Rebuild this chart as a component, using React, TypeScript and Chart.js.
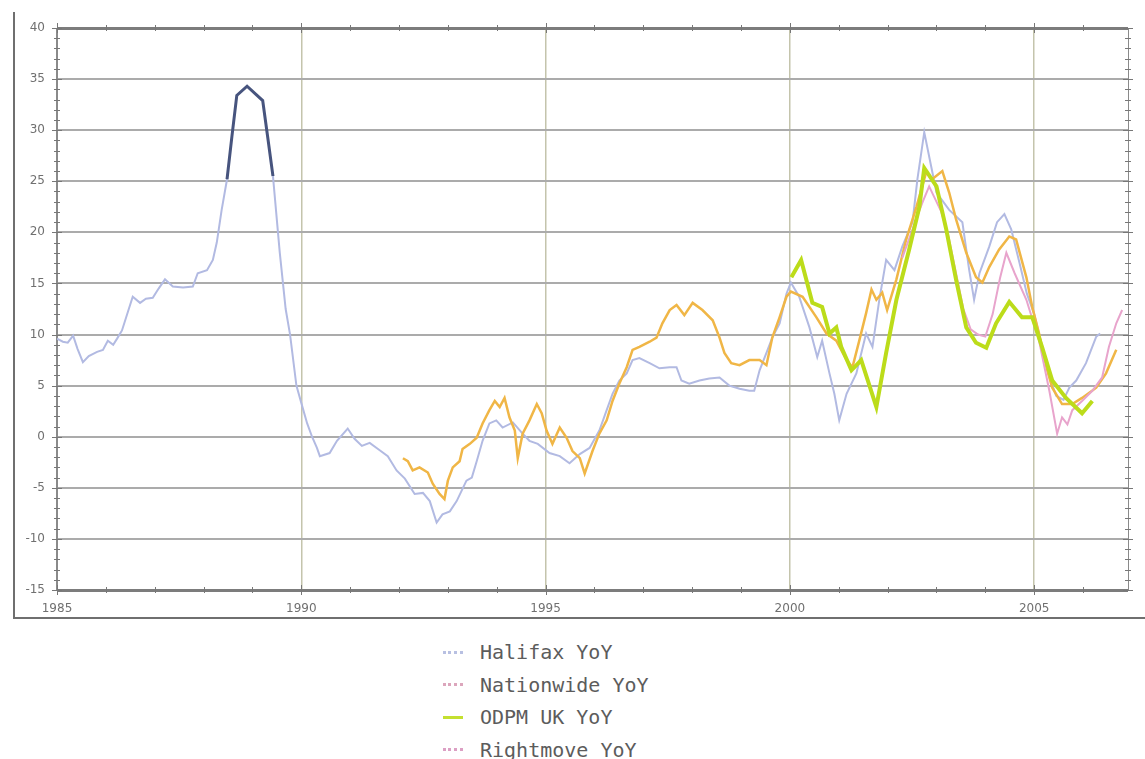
import React, { useEffect, useRef } from "react";
import { Chart, registerables } from "chart.js";

Chart.register(...registerables);

const xMin = 1985;
const xMax = 2006.92;
const yMin = -15;
const yMax = 40;
const xTickLabels = [1985, 1990, 1995, 2000, 2005];
const yTickLabels = [-15, -10, -5, 0, 5, 10, 15, 20, 25, 30, 35, 40];

const halifaxYears = [
  1985.0, 1985.12, 1985.22, 1985.33, 1985.42, 1985.53, 1985.65, 1985.82, 1985.94, 1986.04,
  1986.15, 1986.23, 1986.33, 1986.45, 1986.55, 1986.7, 1986.82, 1986.96, 1987.08, 1987.21,
  1987.37, 1987.58, 1987.78, 1987.88, 1988.07, 1988.19, 1988.27, 1988.37, 1988.48, 1988.58,
  1988.68, 1988.89, 1989.21, 1989.31, 1989.42, 1989.56, 1989.68, 1989.77, 1989.9, 1990.03,
  1990.12, 1990.22, 1990.32, 1990.38, 1990.58, 1990.73, 1990.95, 1991.09, 1991.24, 1991.4,
  1991.57, 1991.77, 1991.95, 1992.12, 1992.32, 1992.49, 1992.63, 1992.77, 1992.89, 1993.04,
  1993.18, 1993.28, 1993.38, 1993.49, 1993.59, 1993.71, 1993.85, 1993.99, 1994.12, 1994.33,
  1994.53, 1994.67, 1994.84, 1995.08, 1995.29, 1995.49, 1995.7, 1995.9, 1996.1, 1996.25,
  1996.37, 1996.51, 1996.66, 1996.78, 1996.92, 1997.13, 1997.33, 1997.54, 1997.68, 1997.78,
  1997.94, 1998.15, 1998.35, 1998.56, 1998.76, 1998.97, 1999.17, 1999.27, 1999.38, 1999.52,
  1999.64, 1999.79, 1999.93, 2000.02, 2000.19, 2000.4, 2000.56, 2000.66, 2000.81, 2000.91,
  2001.01, 2001.16, 2001.36, 2001.56, 2001.69, 2001.83, 2001.97, 2002.14, 2002.3, 2002.51,
  2002.61, 2002.75, 2002.89, 2003.0, 2003.26, 2003.53, 2003.67, 2003.77, 2003.88, 2004.08,
  2004.24, 2004.39, 2004.53, 2004.7, 2004.85, 2005.0, 2005.15, 2005.3, 2005.45, 2005.6,
  2005.72, 2005.86, 2006.06, 2006.27, 2006.35,
];
const halifaxYoY = [
  9.6, 9.3, 9.2, 9.9, 8.6, 7.3, 7.9, 8.3, 8.5, 9.4,
  9.0, 9.6, 10.4, 12.2, 13.7, 13.1, 13.5, 13.6, 14.5, 15.4,
  14.7, 14.6, 14.7, 16.0, 16.3, 17.3, 19.0, 22.2, 25.2, 29.4,
  33.4, 34.3, 32.9, 29.4, 25.5, 18.0, 12.5, 10.0, 5.0, 2.8,
  1.3, 0.0, -1.1, -1.9, -1.6, -0.4, 0.8, -0.2, -0.9, -0.6,
  -1.2, -1.9, -3.3, -4.1, -5.6, -5.5, -6.3, -8.4, -7.6, -7.3,
  -6.3, -5.3, -4.3, -4.0, -2.4, -0.4, 1.3, 1.6, 0.9, 1.4,
  0.3, -0.4, -0.7, -1.6, -1.9, -2.6, -1.7, -1.1, 0.6, 2.6,
  4.2, 5.5, 6.2, 7.5, 7.7, 7.2, 6.7, 6.8, 6.8, 5.5,
  5.2, 5.5, 5.7, 5.8, 5.0, 4.7, 4.5, 4.5, 6.5, 8.2,
  9.7, 11.1, 14.0, 15.1, 13.7, 10.7, 7.8, 9.4, 6.2, 4.2,
  1.6, 4.2, 6.2, 10.1, 8.8, 13.4, 17.3, 16.3, 18.6, 21.0,
  25.2, 29.8, 26.5, 23.9, 22.2, 21.0, 16.3, 13.4, 16.0, 18.6,
  21.0, 21.8, 20.3, 17.0, 14.0, 12.0, 9.0, 6.0, 4.0, 3.6,
  4.8, 5.5, 7.2, 9.8, 10.1,
];

const nationwideYears = [
  1992.08, 1992.18, 1992.28, 1992.42, 1992.59, 1992.69, 1992.83, 1992.93, 1993.0, 1993.1,
  1993.24, 1993.3, 1993.45, 1993.59, 1993.71, 1993.85, 1993.96, 1994.06, 1994.16, 1994.26,
  1994.37, 1994.43, 1994.53, 1994.67, 1994.82, 1994.92, 1995.02, 1995.14, 1995.29, 1995.43,
  1995.55, 1995.7, 1995.8, 1995.96, 1996.1, 1996.25, 1996.37, 1996.51, 1996.66, 1996.78,
  1996.92, 1997.13, 1997.27, 1997.39, 1997.54, 1997.68, 1997.84, 1998.01, 1998.21, 1998.42,
  1998.56, 1998.66, 1998.8, 1998.97, 1999.17, 1999.38, 1999.52, 1999.64, 1999.79, 1999.93,
  2000.02, 2000.26, 2000.54, 2000.75, 2000.95, 2001.16, 2001.28, 2001.42, 2001.56, 2001.67,
  2001.77, 2001.89, 2001.99, 2002.18, 2002.38, 2002.59, 2002.79, 2002.91, 2003.12, 2003.26,
  2003.4, 2003.61, 2003.81, 2003.94, 2004.08, 2004.28, 2004.49, 2004.63, 2004.84, 2004.96,
  2005.1, 2005.25, 2005.37, 2005.57, 2005.78, 2005.98, 2006.27, 2006.47, 2006.68,
];
const nationwideYoY = [
  -2.1, -2.4, -3.3, -3.0, -3.5, -4.6, -5.6, -6.1, -4.3, -3.0,
  -2.4, -1.2, -0.7, -0.1, 1.3, 2.6, 3.5, 2.9, 3.8, 1.9,
  0.6, -2.1, 0.3, 1.6, 3.2, 2.3, 0.6, -0.7, 0.9, -0.1,
  -1.4, -2.1, -3.6, -1.4, 0.3, 1.6, 3.5, 5.2, 6.8, 8.5,
  8.8, 9.3, 9.7, 11.1, 12.4, 12.9, 11.9, 13.1, 12.4, 11.4,
  9.7, 8.2, 7.2, 7.0, 7.5, 7.5, 7.0, 9.7, 11.7, 13.7,
  14.2, 13.7, 11.7, 10.1, 9.4, 7.5, 6.8, 9.4, 12.1, 14.4,
  13.4, 14.1, 12.4, 15.4, 19.3, 22.5, 25.9, 25.2, 26.0, 23.9,
  21.3, 18.0, 15.6, 15.1, 16.6, 18.3, 19.6, 19.3, 15.6, 12.7,
  10.1, 6.8, 4.8, 3.2, 3.2, 3.8, 4.8, 6.2, 8.5,
];

const odpmYears = [
  2000.03, 2000.23, 2000.46, 2000.66, 2000.81, 2000.95, 2001.05, 2001.26, 2001.46, 2001.77,
  2001.97, 2002.18, 2002.44, 2002.65, 2002.75, 2003.0, 2003.2, 2003.4, 2003.61, 2003.81,
  2004.02, 2004.22, 2004.49, 2004.75, 2004.96, 2005.16, 2005.37, 2005.65, 2005.98, 2006.19,
];
const odpmYoY = [
  15.6, 17.3, 13.1, 12.7, 10.1, 10.7, 8.8, 6.5, 7.5, 2.9,
  8.2, 13.4, 18.3, 22.5, 26.3, 24.5, 20.3, 15.4, 10.7, 9.2,
  8.7, 11.1, 13.2, 11.7, 11.7, 8.8, 5.5, 3.8, 2.3, 3.5,
];

const rightmoveYears = [
  2002.3, 2002.45, 2002.6, 2002.72, 2002.85, 2002.95, 2003.1, 2003.25, 2003.4, 2003.55,
  2003.7, 2003.85, 2004.0, 2004.15, 2004.3, 2004.43, 2004.6, 2004.84, 2005.1, 2005.31,
  2005.47, 2005.57, 2005.68, 2005.78, 2005.98, 2006.19, 2006.39, 2006.53, 2006.68, 2006.8,
];
const rightmoveYoY = [
  17.5, 19.5, 21.5, 23.0, 24.5, 23.5, 22.0, 19.5, 16.0, 12.5,
  10.5, 10.0, 9.8, 12.0, 15.5, 18.0, 16.0, 13.4, 9.4, 4.5,
  0.3, 1.9, 1.2, 2.6, 3.5, 4.5, 5.8, 8.8, 11.1, 12.4,
];

const seriesNames = ["Halifax YoY", "Nationwide YoY", "ODPM UK YoY", "Rightmove YoY"];

const toPoints = (xs: number[], ys: number[]) => xs.map((x, i) => ({ x, y: ys[i] }));

const decorPlugin = {
  id: "decor",
  afterDraw(chart: any) {
    const { ctx, chartArea, scales } = chart;
    const { left, right, top, bottom } = chartArea;
    const x = scales.x;
    const y = scales.y;
    ctx.save();
    // outer frame
    ctx.strokeStyle = "#6f6f6f";
    ctx.lineWidth = 2;
    ctx.beginPath();
    ctx.moveTo(14, 12);
    ctx.lineTo(14, 618);
    ctx.lineTo(1145, 618);
    ctx.stroke();
    // right axis
    ctx.strokeStyle = "#8a8a8a";
    ctx.lineWidth = 1;
    ctx.beginPath();
    ctx.moveTo(right + 0.5, top);
    ctx.lineTo(right + 0.5, bottom);
    ctx.stroke();
    // y minor ticks
    ctx.strokeStyle = "#777";
    ctx.lineWidth = 1;
    for (let v = yMin; v <= yMax; v++) {
      const py = Math.round(y.getPixelForValue(v)) + 0.5;
      const len = v % 5 === 0 ? 5 : 3;
      ctx.beginPath();
      ctx.moveTo(left - len, py);
      ctx.lineTo(left + len, py);
      ctx.moveTo(right - len, py);
      ctx.lineTo(right + len, py);
      ctx.stroke();
    }
    // x year ticks
    for (let yr = 1985; yr <= 2006; yr++) {
      const px = Math.round(x.getPixelForValue(yr)) + 0.5;
      const len = yr % 5 === 0 ? 5 : 3;
      ctx.beginPath();
      ctx.moveTo(px, top - len);
      ctx.lineTo(px, top + len);
      ctx.moveTo(px, bottom - len);
      ctx.lineTo(px, bottom + len);
      ctx.stroke();
    }
    ctx.restore();
  },
};

function ChartView() {
  const ref = useRef<HTMLCanvasElement | null>(null);
  useEffect(() => {
    if (!ref.current) return;
    const chart = new Chart(ref.current, {
      type: "line",
      data: {
        datasets: [
          {
            label: seriesNames[0],
            data: toPoints(halifaxYears, halifaxYoY),
            borderColor: "#b2bae2",
            borderWidth: 2,
            pointRadius: 0,
            order: 4,
            segment: {
              borderColor: (c: any) =>
                c.p0.parsed.x < 1990 && c.p0.parsed.y >= 25 && c.p1.parsed.y >= 25 ? "#47547e" : undefined,
              borderWidth: (c: any) =>
                c.p0.parsed.x < 1990 && c.p0.parsed.y >= 25 && c.p1.parsed.y >= 25 ? 3 : undefined,
            },
          },
          {
            label: seriesNames[1],
            data: toPoints(nationwideYears, nationwideYoY),
            borderColor: "#f0b646",
            borderWidth: 2.5,
            pointRadius: 0,
            order: 3,
          },
          {
            label: seriesNames[2],
            data: toPoints(odpmYears, odpmYoY),
            borderColor: "#bcdc1a",
            borderWidth: 4,
            pointRadius: 0,
            order: 1,
          },
          {
            label: seriesNames[3],
            data: toPoints(rightmoveYears, rightmoveYoY),
            borderColor: "#e8a4cc",
            borderWidth: 2,
            pointRadius: 0,
            order: 2,
          },
        ],
      },
      options: {
        animation: false,
        responsive: false,
        devicePixelRatio: 1,
        layout: { padding: { top: 28, right: 17, left: 0, bottom: 0 } },
        plugins: { legend: { display: false }, tooltip: { enabled: false } },
        scales: {
          x: {
            type: "linear",
            min: xMin,
            max: xMax,
            afterFit: (s: any) => {
              s.height = 35;
            },
            afterBuildTicks: (s: any) => {
              s.ticks = xTickLabels.map((v) => ({ value: v }));
            },
            ticks: {
              callback: (v: any) => String(v),
              color: "#707070",
              font: { family: "DejaVu Sans", size: 12 },
              padding: 12,
              maxRotation: 0,
              autoSkip: false,
            },
            grid: {
              color: (c: any) => (c.tick && c.tick.value === 1985 ? "#8a8a8a" : "#c4c4ac"),
              lineWidth: 1.5,
              drawTicks: false,
            },
            border: { display: false },
          },
          y: {
            min: yMin,
            max: yMax,
            afterFit: (s: any) => {
              s.width = 57;
            },
            afterBuildTicks: (s: any) => {
              s.ticks = yTickLabels.map((v) => ({ value: v }));
            },
            ticks: {
              color: "#707070",
              font: { family: "DejaVu Sans", size: 12 },
              padding: 12,
            },
            grid: {
              color: (c: any) =>
                c.tick && (c.tick.value === 40 || c.tick.value === -15) ? "#7c7c7c" : "#ababab",
              lineWidth: (c: any) =>
                c.tick && (c.tick.value === 40 || c.tick.value === -15) ? 3 : 2,
              drawTicks: false,
            },
            border: { display: true, color: "#8a8a8a", width: 1 },
          },
        },
      },
      plugins: [decorPlugin],
    } as any);
    return () => chart.destroy();
  }, []);
  return <canvas ref={ref} width={1145} height={625} style={{ display: "block" }} />;
}

const legendColors = ["#b8c0e2", "#dca6bc", "#c4e030", "#dca0c4"];
const legendStyles = ["dotted", "dotted", "solid", "dotted"];

export default function App() {
  return (
    <div
      style={{
        position: "absolute",
        left: 0,
        top: 0,
        width: 1145,
        height: 759,
        background: "#ffffff",
        overflow: "hidden",
      }}
    >
      <ChartView />
      {seriesNames.map((name, i) => (
        <div
          key={name}
          style={{
            position: "absolute",
            left: 443,
            top: 640 + i * 32.5,
            height: 24,
            display: "flex",
            alignItems: "center",
            fontFamily: "'DejaVu Sans Mono', monospace",
            fontSize: 20,
            color: "#5c5c5c",
            whiteSpace: "nowrap",
          }}
        >
          <span
            style={{
              display: "inline-block",
              width: 20,
              height: 0,
              borderTop: `3px ${legendStyles[i]} ${legendColors[i]}`,
              marginRight: 17,
            }}
          />
          {name}
        </div>
      ))}
    </div>
  );
}
